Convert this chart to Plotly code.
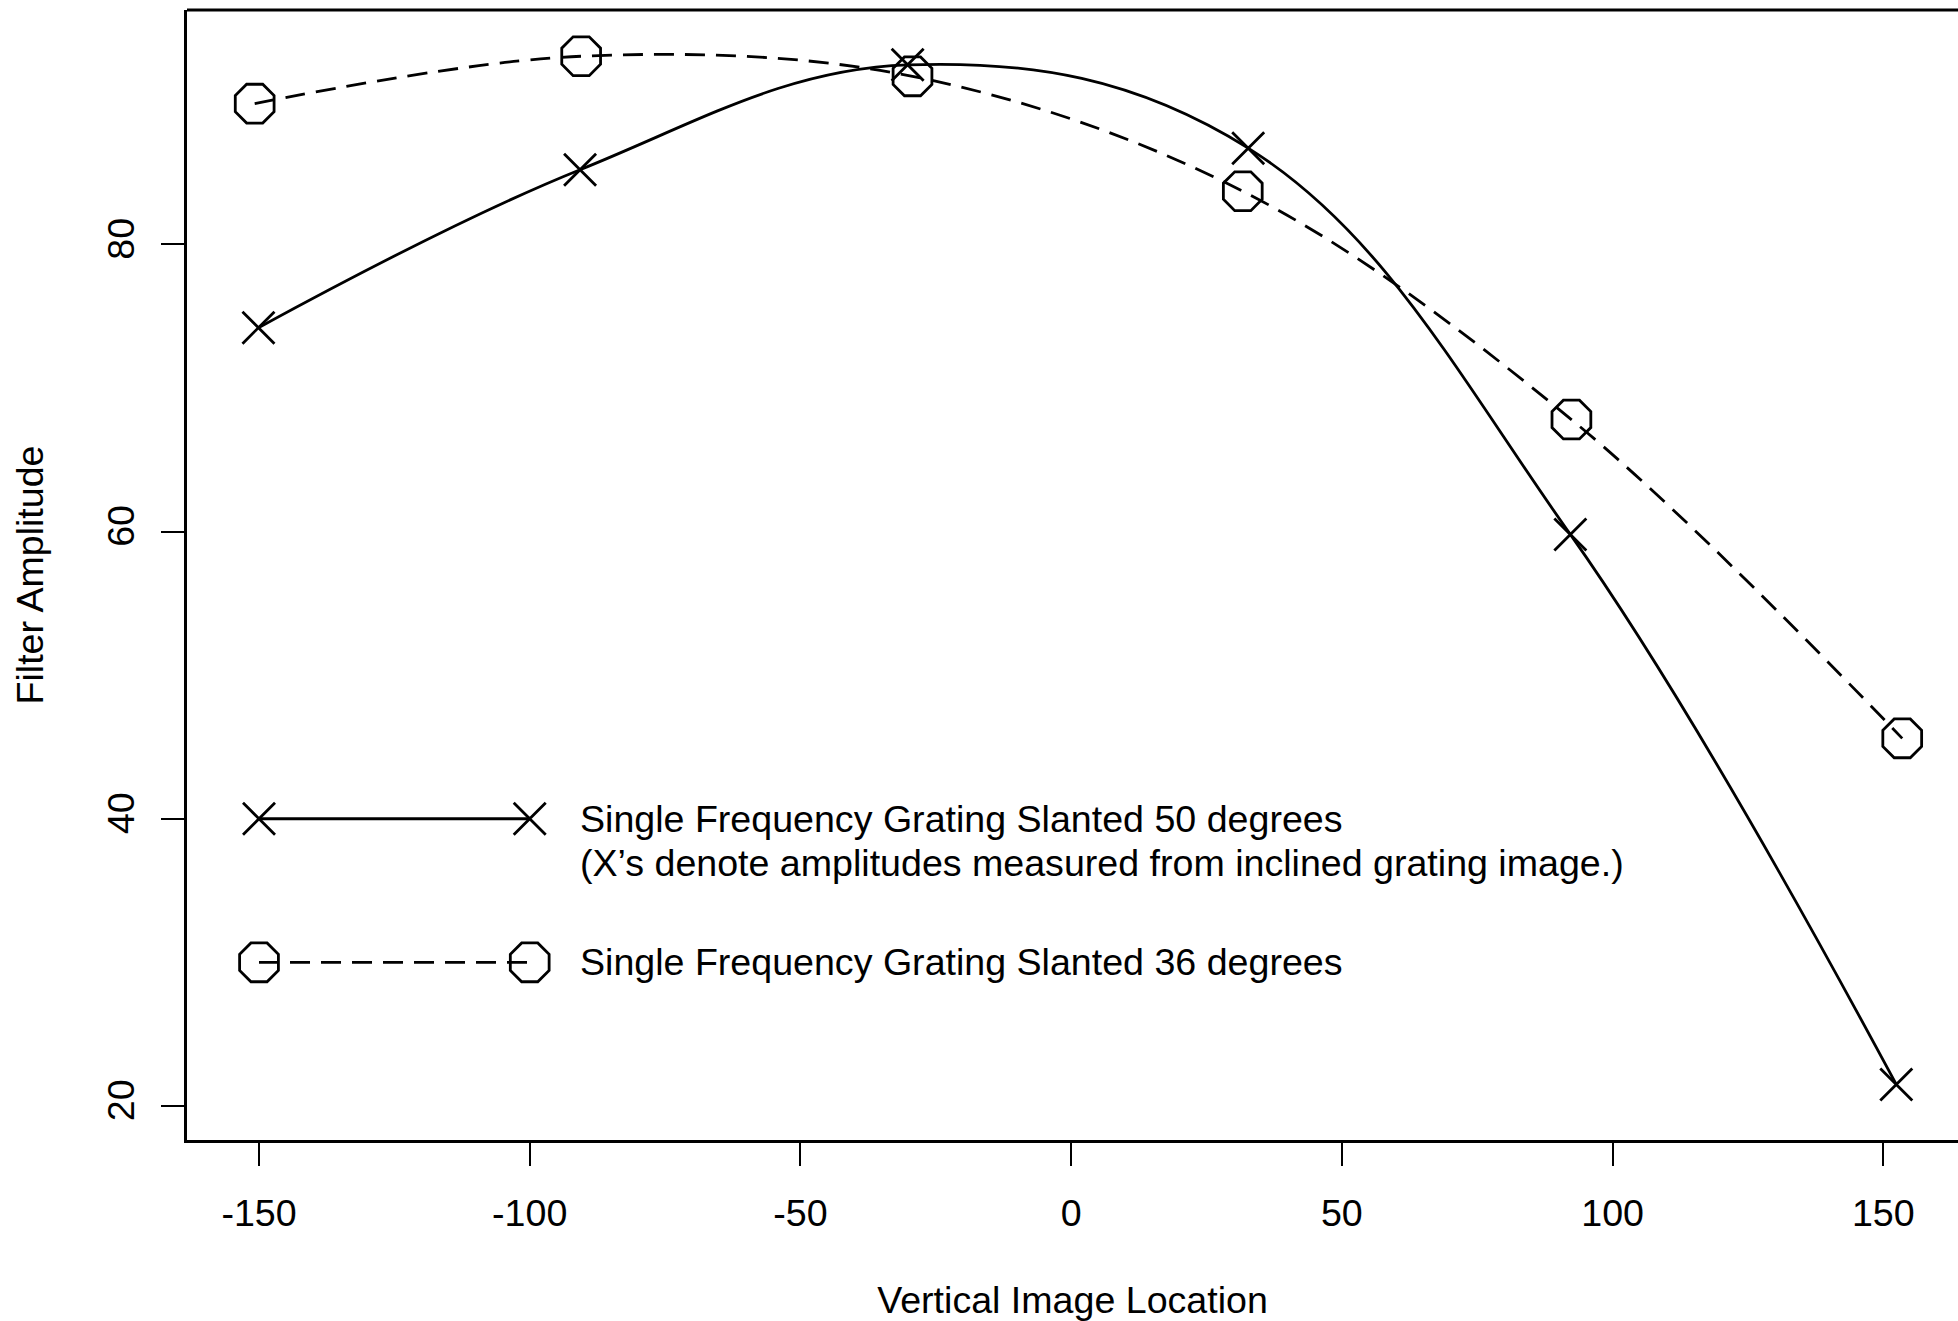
import plotly.graph_objects as go

# ---- data ----
x_50deg = [-150.1, -90.7, -30.2, 32.7, 92.2, 152.4]
amp_50deg = [74.2, 85.2, 92.5, 86.7, 59.8, 21.5]

x_36deg = [-150.8, -90.5, -29.3, 31.7, 92.4, 153.5]
amp_36deg = [89.8, 93.1, 91.7, 83.7, 67.8, 45.6]

x_ticks = [-150, -100, -50, 0, 50, 100, 150]
y_ticks = [20, 40, 60, 80]

legend_key_x = [-150, -100]
legend_text_x = -91
legend_50_y = 40
legend_50_note_y = 36.95
legend_36_y = 30

label_50 = "Single Frequency Grating Slanted 50 degrees"
note_50 = "(X\u2019s denote amplitudes measured from inclined grating image.)"
label_36 = "Single Frequency Grating Slanted 36 degrees"

FONT = "Liberation Sans, Arial, Helvetica, sans-serif"
FS = 37.6
LW = 2.8
DASH = "20px,11px"
XSIZE = 32
OSIZE = 42

fig = go.Figure()

# main curves
fig.add_trace(go.Scatter(
    x=x_50deg, y=amp_50deg, mode="lines+markers",
    line=dict(color="black", width=LW, shape="spline", smoothing=1.1),
    marker=dict(symbol="x-thin-open", size=XSIZE, line=dict(color="black", width=LW)),
    showlegend=False))
fig.add_trace(go.Scatter(
    x=x_36deg, y=amp_36deg, mode="lines+markers",
    line=dict(color="black", width=LW, shape="spline", smoothing=1.0, dash=DASH),
    marker=dict(symbol="octagon-open", size=OSIZE, line=dict(color="black", width=LW)),
    showlegend=False))

# legend keys drawn inside the plot
fig.add_trace(go.Scatter(
    x=legend_key_x, y=[legend_50_y] * 2, mode="lines+markers",
    line=dict(color="black", width=LW),
    marker=dict(symbol="x-thin-open", size=XSIZE, line=dict(color="black", width=LW)),
    showlegend=False))
fig.add_trace(go.Scatter(
    x=legend_key_x, y=[legend_36_y] * 2, mode="lines+markers",
    line=dict(color="black", width=LW, dash=DASH),
    marker=dict(symbol="octagon-open", size=OSIZE, line=dict(color="black", width=LW)),
    showlegend=False))

for txt, yy in [(label_50, legend_50_y), (note_50, legend_50_note_y), (label_36, legend_36_y)]:
    fig.add_annotation(x=legend_text_x, y=yy, xref="x", yref="y", text=txt,
                       showarrow=False, xanchor="left", yanchor="middle",
                       font=dict(family=FONT, size=FS, color="black"))

# top border of the frame
fig.add_shape(type="line", xref="paper", yref="paper", x0=0, x1=1, y0=1, y1=1,
              line=dict(color="black", width=3))

fig.update_layout(
    width=1958, height=1321,
    margin=dict(l=187, r=0, t=10, b=181),
    paper_bgcolor="white", plot_bgcolor="white",
    font=dict(family=FONT, size=FS, color="black"),
    xaxis=dict(range=[-163.3, 163.8], tickmode="array", tickvals=x_ticks,
               ticktext=[str(v) for v in x_ticks],
               showgrid=False, zeroline=False, showline=True, linecolor="black",
               linewidth=3, ticks="outside", ticklen=23, tickwidth=2, tickcolor="black",
               ticklabelstandoff=15,
               tickfont=dict(family=FONT, size=FS),
               title=dict(text="Vertical Image Location", standoff=54,
                          font=dict(family=FONT, size=FS))),
    yaxis=dict(range=[17.63, 96.32], tickmode="array", tickvals=y_ticks,
               ticktext=[str(v) for v in y_ticks], tickangle=-90,
               showgrid=False, zeroline=False, showline=True, linecolor="black",
               linewidth=3, ticks="outside", ticklen=23, tickwidth=2, tickcolor="black",
               ticklabelstandoff=12,
               tickfont=dict(family=FONT, size=FS),
               title=dict(text="Filter Amplitude", standoff=45,
                          font=dict(family=FONT, size=FS))),
)

fig.write_html("out.html")
